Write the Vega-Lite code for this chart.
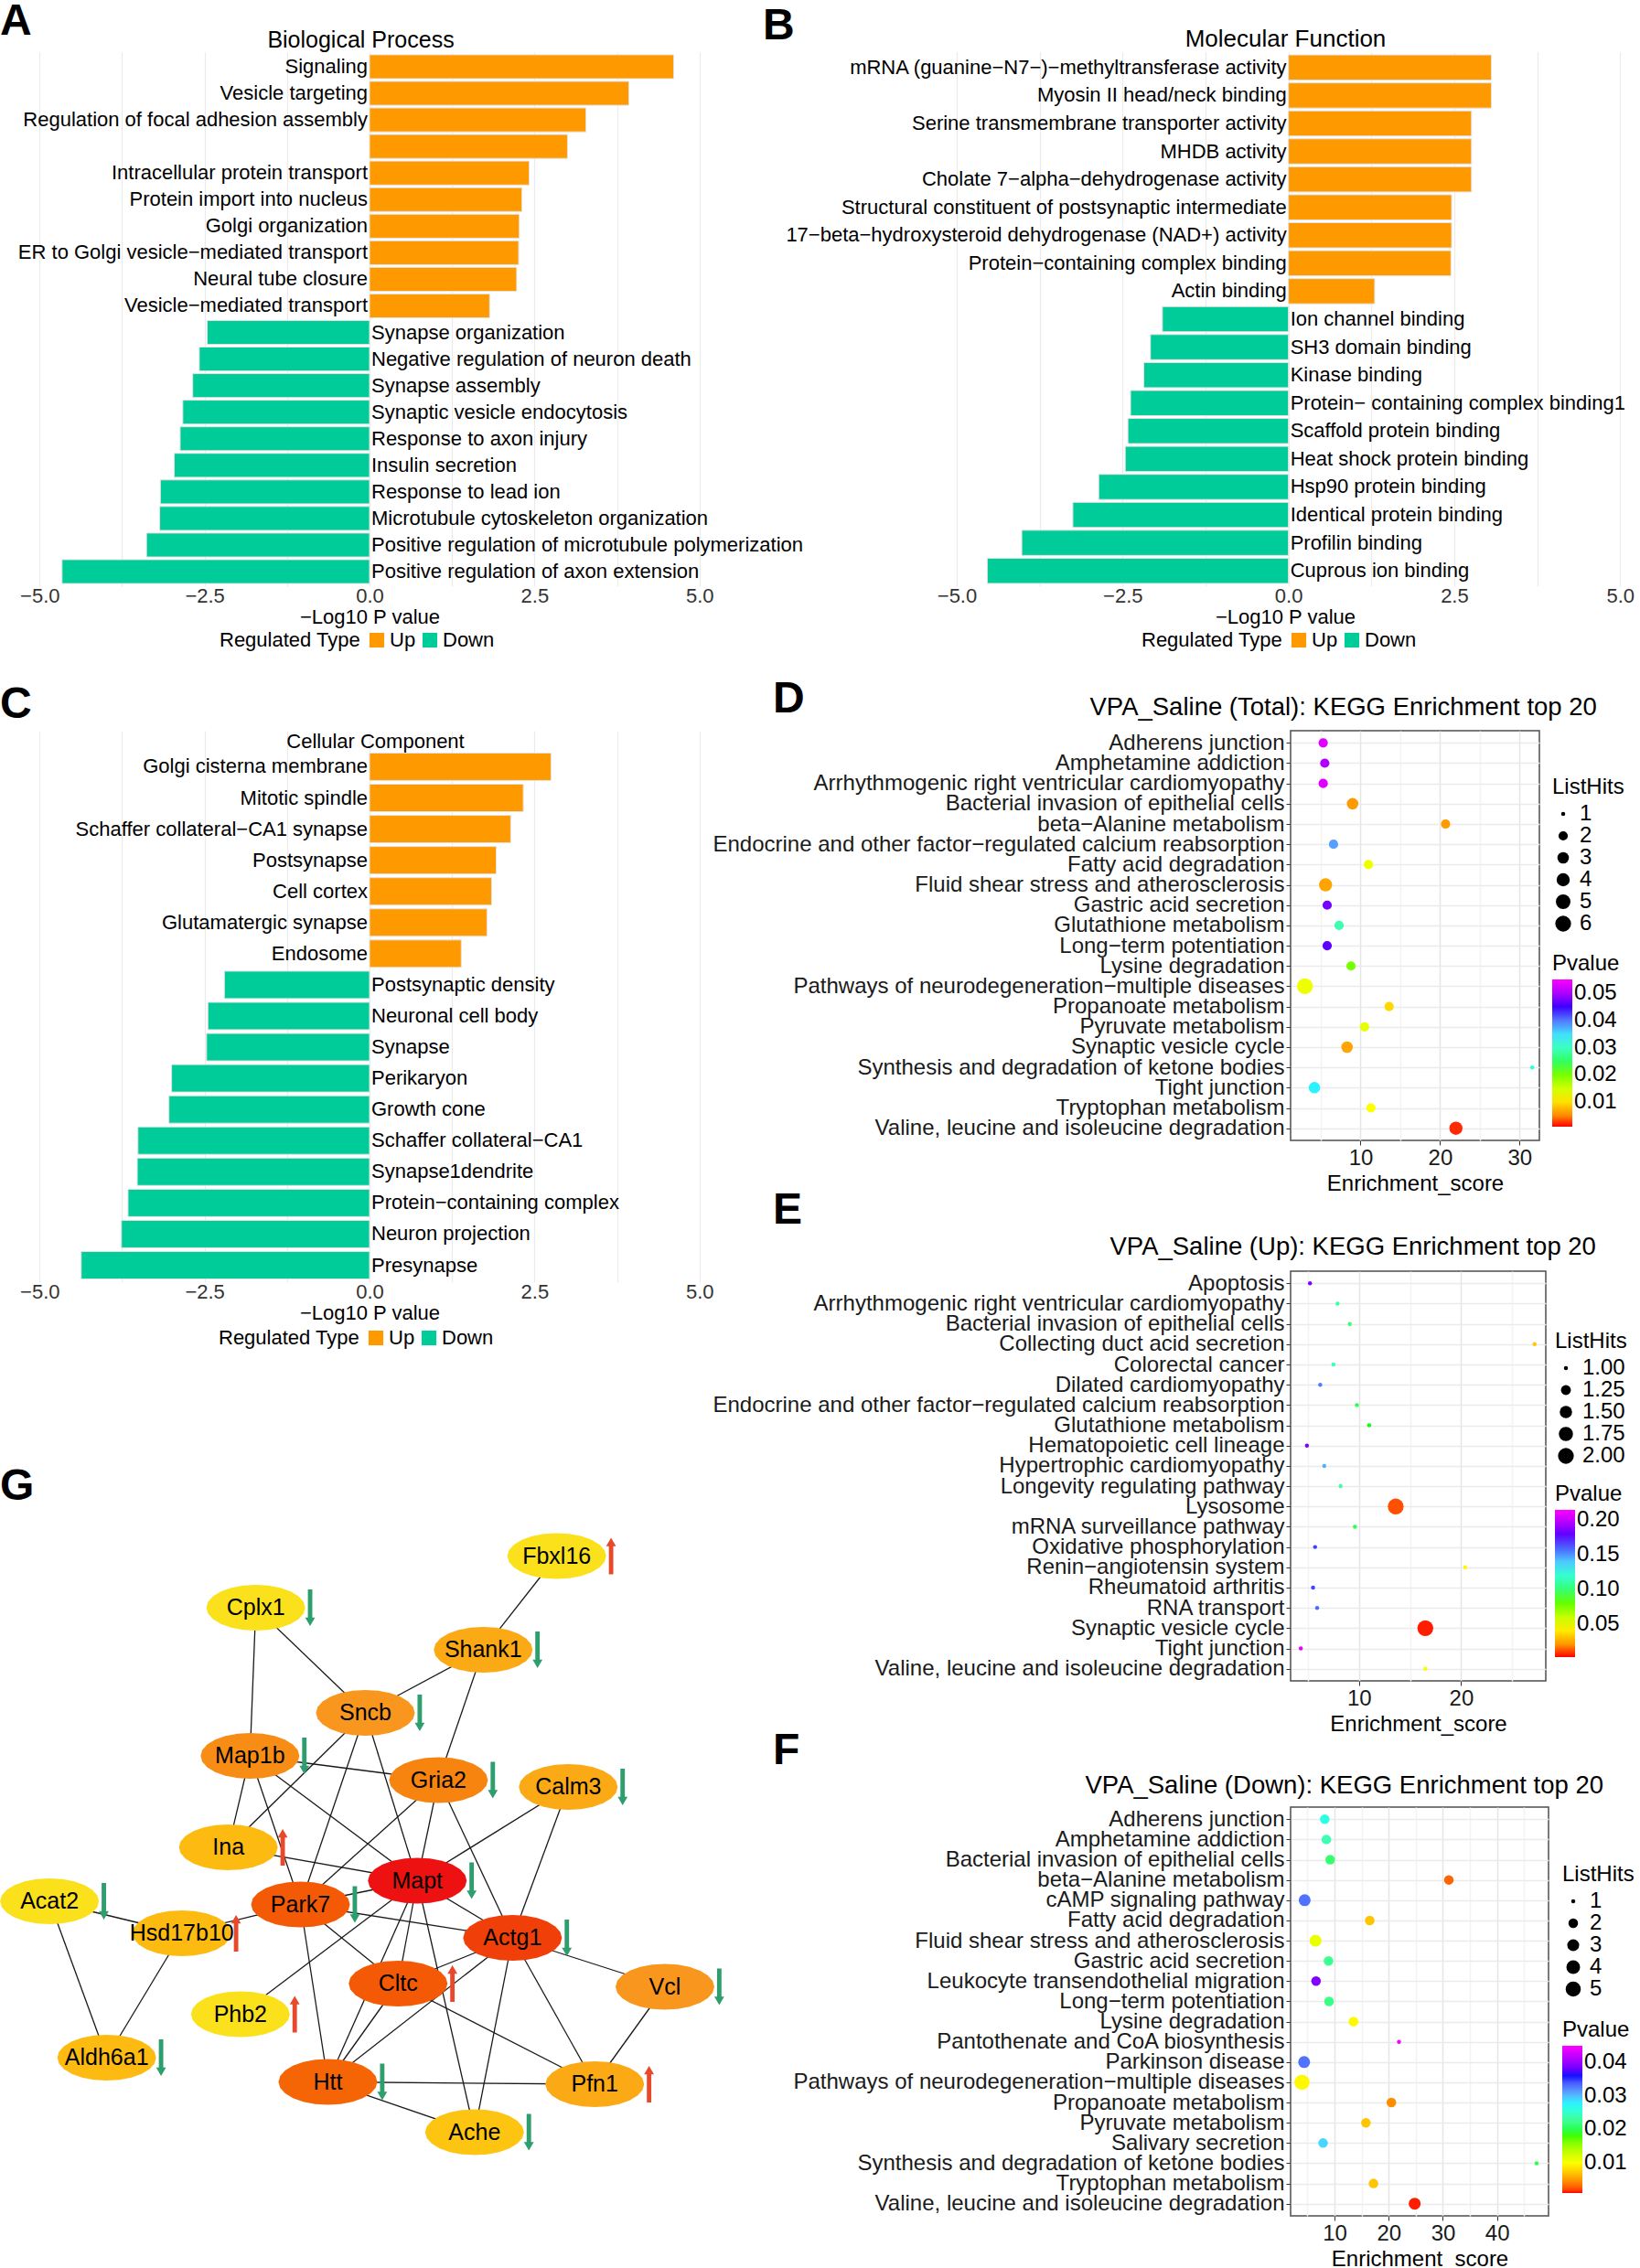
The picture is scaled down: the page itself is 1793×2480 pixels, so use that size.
{
"$schema":"https://vega.github.io/schema/vega-lite/v6.json",
"background":"white",
"padding":0,
"config":{"font":"Liberation Sans","view":{"stroke":null},"axis":{"labelColor":"#222","titleColor":"black"},"legend":{"labelColor":"black","titleColor":"black"},"title":{"color":"black"}},
"datasets":{
"bp":[
{"id":1,"term":"Signaling","value":4.61,"type":"Up"},
{"id":2,"term":"Vesicle targeting","value":3.93,"type":"Up"},
{"id":3,"term":"Regulation of focal adhesion assembly","value":3.28,"type":"Up"},
{"id":4,"term":"","value":3.0,"type":"Up"},
{"id":5,"term":"Intracellular protein transport","value":2.42,"type":"Up"},
{"id":6,"term":"Protein import into nucleus","value":2.31,"type":"Up"},
{"id":7,"term":"Golgi organization","value":2.27,"type":"Up"},
{"id":8,"term":"ER to Golgi vesicle−mediated transport","value":2.26,"type":"Up"},
{"id":9,"term":"Neural tube closure","value":2.23,"type":"Up"},
{"id":10,"term":"Vesicle−mediated transport","value":1.82,"type":"Up"},
{"id":11,"term":"Synapse organization","value":-2.46,"type":"Down"},
{"id":12,"term":"Negative regulation of neuron death","value":-2.58,"type":"Down"},
{"id":13,"term":"Synapse assembly","value":-2.68,"type":"Down"},
{"id":14,"term":"Synaptic vesicle endocytosis","value":-2.83,"type":"Down"},
{"id":15,"term":"Response to axon injury","value":-2.87,"type":"Down"},
{"id":16,"term":"Insulin secretion","value":-2.96,"type":"Down"},
{"id":17,"term":"Response to lead ion","value":-3.17,"type":"Down"},
{"id":18,"term":"Microtubule cytoskeleton organization","value":-3.18,"type":"Down"},
{"id":19,"term":"Positive regulation of microtubule polymerization","value":-3.38,"type":"Down"},
{"id":20,"term":"Positive regulation of axon extension","value":-4.66,"type":"Down"}
],
"mf":[
{"id":1,"term":"mRNA (guanine−N7−)−methyltransferase activity","value":3.06,"type":"Up"},
{"id":2,"term":"Myosin II head/neck binding","value":3.06,"type":"Up"},
{"id":3,"term":"Serine transmembrane transporter activity","value":2.76,"type":"Up"},
{"id":4,"term":"MHDB activity","value":2.76,"type":"Up"},
{"id":5,"term":"Cholate 7−alpha−dehydrogenase activity","value":2.76,"type":"Up"},
{"id":6,"term":"Structural constituent of postsynaptic intermediate","value":2.46,"type":"Up"},
{"id":7,"term":"17−beta−hydroxysteroid dehydrogenase (NAD+) activity","value":2.46,"type":"Up"},
{"id":8,"term":"Protein−containing complex binding","value":2.45,"type":"Up"},
{"id":9,"term":"Actin binding","value":1.3,"type":"Up"},
{"id":10,"term":"Ion channel binding","value":-1.9,"type":"Down"},
{"id":11,"term":"SH3 domain binding","value":-2.08,"type":"Down"},
{"id":12,"term":"Kinase binding","value":-2.18,"type":"Down"},
{"id":13,"term":"Protein− containing complex binding1","value":-2.38,"type":"Down"},
{"id":14,"term":"Scaffold protein binding","value":-2.42,"type":"Down"},
{"id":15,"term":"Heat shock protein binding","value":-2.46,"type":"Down"},
{"id":16,"term":"Hsp90 protein binding","value":-2.86,"type":"Down"},
{"id":17,"term":"Identical protein binding","value":-3.25,"type":"Down"},
{"id":18,"term":"Profilin binding","value":-4.02,"type":"Down"},
{"id":19,"term":"Cuprous ion binding","value":-4.54,"type":"Down"}
],
"cc":[
{"id":1,"term":"Golgi cisterna membrane","value":2.75,"type":"Up"},
{"id":2,"term":"Mitotic spindle","value":2.33,"type":"Up"},
{"id":3,"term":"Schaffer collateral−CA1 synapse","value":2.14,"type":"Up"},
{"id":4,"term":"Postsynapse","value":1.92,"type":"Up"},
{"id":5,"term":"Cell cortex","value":1.85,"type":"Up"},
{"id":6,"term":"Glutamatergic synapse","value":1.78,"type":"Up"},
{"id":7,"term":"Endosome","value":1.39,"type":"Up"},
{"id":8,"term":"Postsynaptic density","value":-2.2,"type":"Down"},
{"id":9,"term":"Neuronal cell body","value":-2.45,"type":"Down"},
{"id":10,"term":"Synapse","value":-2.47,"type":"Down"},
{"id":11,"term":"Perikaryon","value":-3.0,"type":"Down"},
{"id":12,"term":"Growth cone","value":-3.04,"type":"Down"},
{"id":13,"term":"Schaffer collateral−CA1","value":-3.51,"type":"Down"},
{"id":14,"term":"Synapse1dendrite","value":-3.52,"type":"Down"},
{"id":15,"term":"Protein−containing complex","value":-3.66,"type":"Down"},
{"id":16,"term":"Neuron projection","value":-3.76,"type":"Down"},
{"id":17,"term":"Presynapse","value":-4.37,"type":"Down"}
],
"ktotal":[
{"term":"Adherens junction","score":5.3,"p":0.053,"hits":2},
{"term":"Amphetamine addiction","score":5.5,"p":0.05,"hits":2},
{"term":"Arrhythmogenic right ventricular cardiomyopathy","score":5.3,"p":0.053,"hits":2},
{"term":"Bacterial invasion of epithelial cells","score":9.0,"p":0.006,"hits":3},
{"term":"beta−Alanine metabolism","score":20.7,"p":0.006,"hits":2},
{"term":"Endocrine and other factor−regulated calcium reabsorption","score":6.6,"p":0.038,"hits":2},
{"term":"Fatty acid degradation","score":11.0,"p":0.013,"hits":2},
{"term":"Fluid shear stress and atherosclerosis","score":5.6,"p":0.0065,"hits":4},
{"term":"Gastric acid secretion","score":5.8,"p":0.047,"hits":2},
{"term":"Glutathione metabolism","score":7.3,"p":0.029,"hits":2},
{"term":"Long−term potentiation","score":5.8,"p":0.046,"hits":2},
{"term":"Lysine degradation","score":8.8,"p":0.02,"hits":2},
{"term":"Pathways of neurodegeneration−multiple diseases","score":3.0,"p":0.013,"hits":6},
{"term":"Propanoate metabolism","score":13.6,"p":0.0095,"hits":2},
{"term":"Pyruvate metabolism","score":10.5,"p":0.0135,"hits":2},
{"term":"Synaptic vesicle cycle","score":8.3,"p":0.0065,"hits":3},
{"term":"Synthesis and degradation of ketone bodies","score":31.6,"p":0.032,"hits":1},
{"term":"Tight junction","score":4.2,"p":0.034,"hits":3},
{"term":"Tryptophan metabolism","score":11.3,"p":0.012,"hits":2},
{"term":"Valine, leucine and isoleucine degradation","score":22.0,"p":0.0015,"hits":4}
],
"kup":[
{"term":"Apoptosis","score":5.2,"p":0.185,"hits":1},
{"term":"Arrhythmogenic right ventricular cardiomyopathy","score":7.9,"p":0.11,"hits":1},
{"term":"Bacterial invasion of epithelial cells","score":9.1,"p":0.1,"hits":1},
{"term":"Collecting duct acid secretion","score":27.2,"p":0.032,"hits":1},
{"term":"Colorectal cancer","score":7.5,"p":0.115,"hits":1},
{"term":"Dilated cardiomyopathy","score":6.2,"p":0.155,"hits":1},
{"term":"Endocrine and other factor−regulated calcium reabsorption","score":9.8,"p":0.095,"hits":1},
{"term":"Glutathione metabolism","score":11.0,"p":0.088,"hits":1},
{"term":"Hematopoietic cell lineage","score":4.9,"p":0.185,"hits":1},
{"term":"Hypertrophic cardiomyopathy","score":6.6,"p":0.145,"hits":1},
{"term":"Longevity regulating pathway","score":8.2,"p":0.11,"hits":1},
{"term":"Lysosome","score":13.6,"p":0.008,"hits":2},
{"term":"mRNA surveillance pathway","score":9.6,"p":0.095,"hits":1},
{"term":"Oxidative phosphorylation","score":5.7,"p":0.165,"hits":1},
{"term":"Renin−angiotensin system","score":20.4,"p":0.043,"hits":1},
{"term":"Rheumatoid arthritis","score":5.5,"p":0.165,"hits":1},
{"term":"RNA transport","score":5.9,"p":0.158,"hits":1},
{"term":"Synaptic vesicle cycle","score":16.5,"p":0.003,"hits":2},
{"term":"Tight junction","score":4.3,"p":0.21,"hits":1},
{"term":"Valine, leucine and isoleucine degradation","score":16.5,"p":0.048,"hits":1}
],
"kdown":[
{"term":"Adherens junction","score":8.2,"p":0.026,"hits":2},
{"term":"Amphetamine addiction","score":8.5,"p":0.024,"hits":2},
{"term":"Bacterial invasion of epithelial cells","score":9.2,"p":0.021,"hits":2},
{"term":"beta−Alanine metabolism","score":31.1,"p":0.003,"hits":2},
{"term":"cAMP signaling pathway","score":4.5,"p":0.033,"hits":3},
{"term":"Fatty acid degradation","score":16.5,"p":0.007,"hits":2},
{"term":"Fluid shear stress and atherosclerosis","score":6.5,"p":0.011,"hits":3},
{"term":"Gastric acid secretion","score":8.9,"p":0.0225,"hits":2},
{"term":"Leukocyte transendothelial migration","score":6.6,"p":0.039,"hits":2},
{"term":"Long−term potentiation","score":9.0,"p":0.022,"hits":2},
{"term":"Lysine degradation","score":13.5,"p":0.0095,"hits":2},
{"term":"Pantothenate and CoA biosynthesis","score":21.9,"p":0.045,"hits":1},
{"term":"Parkinson disease","score":4.4,"p":0.033,"hits":3},
{"term":"Pathways of neurodegeneration−multiple diseases","score":4.0,"p":0.0095,"hits":5},
{"term":"Propanoate metabolism","score":20.5,"p":0.0045,"hits":2},
{"term":"Pyruvate metabolism","score":15.8,"p":0.007,"hits":2},
{"term":"Salivary secretion","score":7.9,"p":0.029,"hits":2},
{"term":"Synthesis and degradation of ketone bodies","score":47.3,"p":0.02,"hits":1},
{"term":"Tryptophan metabolism","score":17.2,"p":0.007,"hits":2},
{"term":"Valine, leucine and isoleucine degradation","score":24.8,"p":0.0012,"hits":3}
],
"nodes":[
{"id":"Fbxl16","x":1158,"y":215,"hub":1,"reg":"up"},
{"id":"Cplx1","x":532,"y":328,"hub":1,"reg":"down"},
{"id":"Shank1","x":1005,"y":420,"hub":4,"reg":"down"},
{"id":"Sncb","x":760,"y":558,"hub":5,"reg":"down"},
{"id":"Map1b","x":520,"y":652,"hub":5.5,"reg":"down"},
{"id":"Gria2","x":912,"y":705,"hub":6,"reg":"down"},
{"id":"Calm3","x":1182,"y":720,"hub":4,"reg":"down"},
{"id":"Ina","x":475,"y":852,"hub":3,"reg":"up"},
{"id":"Acat2","x":103,"y":970,"hub":1,"reg":"down"},
{"id":"Hsd17b10","x":378,"y":1040,"hub":3,"reg":"up"},
{"id":"Park7","x":625,"y":977,"hub":8,"reg":"down"},
{"id":"Mapt","x":868,"y":925,"hub":10,"reg":"down"},
{"id":"Actg1","x":1066,"y":1050,"hub":9,"reg":"down"},
{"id":"Cltc","x":828,"y":1150,"hub":8,"reg":"up"},
{"id":"Vcl","x":1383,"y":1157,"hub":5,"reg":"down"},
{"id":"Phb2","x":500,"y":1217,"hub":1,"reg":"up"},
{"id":"Aldh6a1","x":222,"y":1312,"hub":3,"reg":"down"},
{"id":"Htt","x":682,"y":1365,"hub":7.5,"reg":"down"},
{"id":"Pfn1","x":1237,"y":1370,"hub":4,"reg":"up"},
{"id":"Ache","x":987,"y":1475,"hub":2.5,"reg":"down"}
],
"edges":[
{"source":"Fbxl16","target":"Shank1"},{"source":"Cplx1","target":"Map1b"},{"source":"Cplx1","target":"Sncb"},
{"source":"Shank1","target":"Sncb"},{"source":"Shank1","target":"Gria2"},{"source":"Sncb","target":"Ina"},
{"source":"Sncb","target":"Park7"},{"source":"Sncb","target":"Mapt"},{"source":"Map1b","target":"Gria2"},
{"source":"Map1b","target":"Ina"},{"source":"Map1b","target":"Park7"},{"source":"Map1b","target":"Mapt"},
{"source":"Gria2","target":"Park7"},{"source":"Gria2","target":"Mapt"},{"source":"Gria2","target":"Actg1"},
{"source":"Calm3","target":"Mapt"},{"source":"Calm3","target":"Actg1"},{"source":"Ina","target":"Mapt"},
{"source":"Acat2","target":"Hsd17b10"},{"source":"Acat2","target":"Aldh6a1"},{"source":"Hsd17b10","target":"Park7"},
{"source":"Hsd17b10","target":"Aldh6a1"},{"source":"Park7","target":"Mapt"},{"source":"Park7","target":"Actg1"},
{"source":"Park7","target":"Cltc"},{"source":"Park7","target":"Htt"},{"source":"Mapt","target":"Actg1"},
{"source":"Mapt","target":"Cltc"},{"source":"Mapt","target":"Htt"},{"source":"Mapt","target":"Ache"},
{"source":"Mapt","target":"Phb2"},{"source":"Actg1","target":"Cltc"},{"source":"Actg1","target":"Htt"},
{"source":"Actg1","target":"Vcl"},{"source":"Actg1","target":"Pfn1"},{"source":"Actg1","target":"Ache"},
{"source":"Cltc","target":"Pfn1"},{"source":"Cltc","target":"Htt"},{"source":"Vcl","target":"Pfn1"},
{"source":"Htt","target":"Pfn1"},{"source":"Htt","target":"Ache"}
]
},
"resolve":{"scale":{"color":"independent","size":"independent","shape":"independent"},"legend":{"color":"independent","size":"independent","shape":"independent"}},
"spacing":29,
"vconcat":[
{"hconcat":[
{"title":{"text":"A","anchor":"start","frame":"group","fontSize":48,"fontWeight":"bold","baseline":"alphabetic","offset":-55,"dx":0},
 "width":808,"height":584,"data":{"name":"bp"},"view":{"stroke":null},
 "encoding":{"y":{"field":"id","type":"ordinal","scale":{"paddingInner":0.1,"paddingOuter":0.1},"axis":{"labels":false,"ticks":false,"domain":false,"grid":false,"title":"Biological Process","titleAngle":0,"titleX":394,"titleY":-6,"titleAlign":"center","titleBaseline":"alphabetic","titleFontSize":25,"titleFontWeight":"normal"}}},
 "layer":[
  {"mark":{"type":"bar","stroke":"#E3E3E3","strokeWidth":1},
   "encoding":{"x":{"field":"value","type":"quantitative","scale":{"domain":[-5.6,5.6],"nice":false,"zero":false},"axis":{"orient":"bottom","values":[-5,-3.75,-2.5,-1.25,0,1.25,2.5,3.75,5],"labelExpr":"datum.value % 2.5 === 0 ? format(datum.value, '.1f') : ''","labelOverlap":false,"labelFlush":false,"grid":true,"gridColor":"#EBEBEB","gridWidth":1.2,"ticks":false,"domain":false,"labelFontSize":22,"labelColor":"#333","labelPadding":0,"title":"−Log10 P value","titleFontSize":22,"titleFontWeight":"normal","titlePadding":2}},
   "color":{"field":"type","type":"nominal","scale":{"domain":["Up","Down"],"range":["#FF9900","#00CC99"]},"legend":{"title":"Regulated Type","orient":"none","legendX":240,"legendY":632,"direction":"horizontal","titleOrient":"left","symbolType":"square","symbolSize":260,"symbolStrokeWidth":0,"labelFontSize":22,"titleFontSize":22,"titleFontWeight":"normal","columnPadding":4,"labelOffset":3,"titlePadding":6}}}},
  {"transform":[{"filter":"datum.type === 'Up'"}],"mark":{"type":"text","align":"right","dx":-2,"fontSize":22,"color":"black"},"encoding":{"x":{"datum":0},"text":{"field":"term"}}},
  {"transform":[{"filter":"datum.type === 'Down'"}],"mark":{"type":"text","align":"left","dx":2,"fontSize":22,"color":"black"},"encoding":{"x":{"datum":0},"text":{"field":"term"}}}
 ]},
{"title":{"text":"B","anchor":"start","frame":"group","fontSize":48,"fontWeight":"bold","baseline":"alphabetic","offset":-62,"dx":-183},
 "width":776,"height":584,"data":{"name":"mf"},"view":{"stroke":null},
 "encoding":{"y":{"field":"id","type":"ordinal","scale":{"paddingInner":0.1,"paddingOuter":0.1},"axis":{"labels":false,"ticks":false,"domain":false,"grid":false,"title":"Molecular Function","titleAngle":0,"titleX":388,"titleY":-7,"titleAlign":"center","titleBaseline":"alphabetic","titleFontSize":26,"titleFontWeight":"normal"}}},
 "layer":[
  {"mark":{"type":"bar","stroke":"#E3E3E3","strokeWidth":1},
   "encoding":{"x":{"field":"value","type":"quantitative","scale":{"domain":[-5.4,5.3],"nice":false,"zero":false},"axis":{"orient":"bottom","values":[-5,-3.75,-2.5,-1.25,0,1.25,2.5,3.75,5],"labelExpr":"datum.value % 2.5 === 0 ? format(datum.value, '.1f') : ''","labelOverlap":false,"labelFlush":false,"grid":true,"gridColor":"#EBEBEB","gridWidth":1.2,"ticks":false,"domain":false,"labelFontSize":22,"labelColor":"#333","labelPadding":0,"title":"−Log10 P value","titleFontSize":22,"titleFontWeight":"normal","titlePadding":2}},
   "color":{"field":"type","type":"nominal","scale":{"domain":["Up","Down"],"range":["#FF9900","#00CC99"]},"legend":{"title":"Regulated Type","orient":"none","legendX":231,"legendY":632,"direction":"horizontal","titleOrient":"left","symbolType":"square","symbolSize":260,"symbolStrokeWidth":0,"labelFontSize":22,"titleFontSize":22,"titleFontWeight":"normal","columnPadding":4,"labelOffset":3,"titlePadding":6}}}},
  {"transform":[{"filter":"datum.type === 'Up'"}],"mark":{"type":"text","align":"right","dx":-2,"fontSize":22,"color":"black"},"encoding":{"x":{"datum":0},"text":{"field":"term"}}},
  {"transform":[{"filter":"datum.type === 'Down'"}],"mark":{"type":"text","align":"left","dx":2,"fontSize":22,"color":"black"},"encoding":{"x":{"datum":0},"text":{"field":"term"}}}
 ]}
],"spacing":-45,"resolve":{"scale":{"color":"independent","size":"independent","shape":"independent"},"legend":{"color":"independent","size":"independent","shape":"independent"}}},
{"hconcat":[
 {"vconcat":[
  {"title":{"text":"C","anchor":"start","frame":"group","fontSize":48,"fontWeight":"bold","baseline":"alphabetic","offset":-34,"dx":0},
   "width":808,"height":603,"data":{"name":"cc"},"view":{"stroke":null},
   "encoding":{"y":{"field":"id","type":"ordinal","scale":{"paddingInner":0.12,"paddingOuter":0.41,"align":0.875},"axis":{"labels":false,"ticks":false,"domain":false,"grid":false,"title":"Cellular Component","titleAngle":0,"titleX":410,"titleY":18,"titleAlign":"center","titleBaseline":"alphabetic","titleFontSize":22,"titleFontWeight":"normal"}}},
   "layer":[
    {"mark":{"type":"bar","stroke":"#E3E3E3","strokeWidth":1},
     "encoding":{"x":{"field":"value","type":"quantitative","scale":{"domain":[-5.6,5.6],"nice":false,"zero":false},"axis":{"orient":"bottom","values":[-5,-3.75,-2.5,-1.25,0,1.25,2.5,3.75,5],"labelExpr":"datum.value % 2.5 === 0 ? format(datum.value, '.1f') : ''","labelOverlap":false,"labelFlush":false,"grid":true,"gridColor":"#EBEBEB","gridWidth":1.2,"ticks":false,"domain":false,"labelFontSize":22,"labelColor":"#333","labelPadding":0,"title":"−Log10 P value","titleFontSize":22,"titleFontWeight":"normal","titlePadding":2}},
     "color":{"field":"type","type":"nominal","scale":{"domain":["Up","Down"],"range":["#FF9900","#00CC99"]},"legend":{"title":"Regulated Type","orient":"none","legendX":239,"legendY":653,"direction":"horizontal","titleOrient":"left","symbolType":"square","symbolSize":260,"symbolStrokeWidth":0,"labelFontSize":22,"titleFontSize":22,"titleFontWeight":"normal","columnPadding":4,"labelOffset":3,"titlePadding":6}}}},
    {"transform":[{"filter":"datum.type === 'Up'"}],"mark":{"type":"text","align":"right","dx":-2,"fontSize":22,"color":"black"},"encoding":{"x":{"datum":0},"text":{"field":"term"}}},
    {"transform":[{"filter":"datum.type === 'Down'"}],"mark":{"type":"text","align":"left","dx":2,"fontSize":22,"color":"black"},"encoding":{"x":{"datum":0},"text":{"field":"term"}}}
   ]},
  {"title":{"text":"G","anchor":"start","frame":"group","fontSize":48,"fontWeight":"bold","baseline":"alphabetic","offset":-19,"dx":0},
   "width":820,"height":705,"view":{"stroke":null},
   "layer":[
    {"data":{"name":"edges"},
     "transform":[{"lookup":"source","from":{"data":{"name":"nodes"},"key":"id","fields":["x","y"]},"as":["sx","sy"]},{"lookup":"target","from":{"data":{"name":"nodes"},"key":"id","fields":["x","y"]},"as":["tx","ty"]}],
     "mark":{"type":"rule","color":"#1A1A1A","strokeWidth":1.3},
     "encoding":{"x":{"field":"sx","type":"quantitative","scale":{"domain":[0,1560],"nice":false,"zero":false},"axis":null},"y":{"field":"sy","type":"quantitative","scale":{"domain":[150,1560],"reverse":true,"nice":false,"zero":false},"axis":null},"x2":{"field":"tx"},"y2":{"field":"ty"}}},
    {"data":{"name":"nodes"},
     "mark":{"type":"point","filled":true,"opacity":1,"size":11664,"shape":"M1,0L0.966,0.12L0.866,0.232L0.707,0.327L0.5,0.401L0.259,0.447L0,0.463L-0.259,0.447L-0.5,0.401L-0.707,0.327L-0.866,0.232L-0.966,0.12L-1,0L-0.966,-0.12L-0.866,-0.232L-0.707,-0.327L-0.5,-0.401L-0.259,-0.447L0,-0.463L0.259,-0.447L0.5,-0.401L0.707,-0.327L0.866,-0.232L0.966,-0.12Z"},
     "encoding":{"x":{"field":"x","type":"quantitative"},"y":{"field":"y","type":"quantitative"},"color":{"field":"hub","type":"quantitative","scale":{"domain":[1,5,10],"range":["#FBE11C","#F9961D","#EE1111"]},"legend":null}}},
    {"data":{"name":"nodes"},
     "mark":{"type":"point","filled":true,"opacity":1,"size":11664},
     "encoding":{"x":{"field":"x","type":"quantitative"},"y":{"field":"y","type":"quantitative"},"shape":{"field":"reg","type":"nominal","scale":{"domain":["down","up"],"range":["M1.055,-0.37L1.145,-0.37L1.145,0.2L1.2,0.2L1.1,0.37L1,0.2L1.055,0.2Z","M1.055,0.37L1.145,0.37L1.145,-0.2L1.2,-0.2L1.1,-0.37L1,-0.2L1.055,-0.2Z"]},"legend":null},"color":{"field":"reg","type":"nominal","scale":{"domain":["down","up"],"range":["#2E9E6E","#E8492B"]},"legend":null}}},
    {"data":{"name":"nodes"},
     "mark":{"type":"text","fontSize":25,"color":"black"},
     "encoding":{"x":{"field":"x","type":"quantitative"},"y":{"field":"y","type":"quantitative"},"text":{"field":"id"}}}
   ],
   "resolve":{"scale":{"color":"independent"}}}
 ],"spacing":128,"resolve":{"scale":{"color":"independent","size":"independent","shape":"independent"},"legend":{"color":"independent","size":"independent","shape":"independent"}}},
 {"vconcat":[
  {"title":{"text":"D","anchor":"start","frame":"group","fontSize":48,"fontWeight":"bold","baseline":"alphabetic","offset":-68,"dx":-566},
   "width":272,"height":448,"data":{"name":"ktotal"},"view":{"stroke":"#4D4D4D","strokeWidth":1.5},
   "mark":{"type":"circle","opacity":1},
   "encoding":{
    "y":{"field":"term","type":"nominal","sort":null,"scale":{"type":"point","padding":0.6},"axis":{"title":"VPA_Saline (Total): KEGG Enrichment top 20","titleAngle":0,"titleX":-220,"titleY":-18,"titleAlign":"left","titleBaseline":"alphabetic","titleFontSize":27.5,"titleFontWeight":"normal","labelFontSize":24,"labelColor":"#1A1A1A","labelLimit":1000,"labelPadding":2,"tickSize":5,"tickColor":"#333","domain":false,"grid":true,"gridColor":"#EBEBEB","gridWidth":1.5}},
    "x":{"field":"score","type":"quantitative","scale":{"domain":[1.2,32.5],"nice":false,"zero":false},"axis":{"values":[5,10,15,20,25,30],"labelExpr":"datum.value % 10 === 0 ? datum.label : ''","labelOverlap":false,"labelFlush":false,"labelFontSize":24,"labelColor":"#1A1A1A","labelPadding":2,"tickSize":5,"tickColor":"#333","tickOpacity":{"condition":{"test":"datum.value % 10 === 0","value":1},"value":0},"gridColor":{"condition":{"test":"datum.value % 10 === 0","value":"#E5E5E5"},"value":"#F3F3F3"},"gridWidth":1.5,"domain":false,"title":"Enrichment_score","titleFontSize":24,"titleFontWeight":"normal","titlePadding":4}},
    "color":{"field":"p","type":"quantitative","scale":{"domain":[0.001,0.0118,0.0226,0.0334,0.0442,0.055],"range":["#FF0000","#FFFF00","#00FF00","#00FFFF","#0000FF","#FF00FF"],"interpolate":"lab"},"legend":{"title":"Pvalue","orient":"none","legendX":286,"legendY":243,"values":[0.01,0.02,0.03,0.04,0.05],"format":".2f","gradientLength":161,"gradientThickness":22,"gradientStrokeWidth":0,"labelFontSize":24,"titleFontSize":24,"titleFontWeight":"normal","direction":"vertical"}},
    "size":{"field":"hits","type":"quantitative","scale":{"domain":[1,2,3,4,5,6],"range":[20,104,158,207,254,299]},"legend":{"title":"ListHits","orient":"none","legendX":286,"legendY":50,"values":[1,2,3,4,5,6],"symbolFillColor":"black","symbolStrokeWidth":0,"symbolOpacity":1,"labelFontSize":24,"titleFontSize":24,"titleFontWeight":"normal","rowPadding":0,"labelOffset":6}}
   }},
  {"title":{"text":"E","anchor":"start","frame":"group","fontSize":48,"fontWeight":"bold","baseline":"alphabetic","offset":-37,"dx":-566},
   "width":279,"height":448,"data":{"name":"kup"},"view":{"stroke":"#4D4D4D","strokeWidth":1.5},
   "mark":{"type":"circle","opacity":1},
   "encoding":{
    "y":{"field":"term","type":"nominal","sort":null,"scale":{"type":"point","padding":0.6},"axis":{"title":"VPA_Saline (Up): KEGG Enrichment top 20","titleAngle":0,"titleX":-198,"titleY":-19,"titleAlign":"left","titleBaseline":"alphabetic","titleFontSize":27.5,"titleFontWeight":"normal","labelFontSize":24,"labelColor":"#1A1A1A","labelLimit":1000,"labelPadding":2,"tickSize":5,"tickColor":"#333","domain":false,"grid":true,"gridColor":"#EBEBEB","gridWidth":1.5}},
    "x":{"field":"score","type":"quantitative","scale":{"domain":[3.3,28.3],"nice":false,"zero":false},"axis":{"values":[5,10,15,20,25],"labelExpr":"datum.value % 10 === 0 ? datum.label : ''","labelOverlap":false,"labelFlush":false,"labelFontSize":24,"labelColor":"#1A1A1A","labelPadding":2,"tickSize":5,"tickColor":"#333","tickOpacity":{"condition":{"test":"datum.value % 10 === 0","value":1},"value":0},"gridColor":{"condition":{"test":"datum.value % 10 === 0","value":"#E5E5E5"},"value":"#F3F3F3"},"gridWidth":1.5,"domain":false,"title":"Enrichment_score","titleFontSize":24,"titleFontWeight":"normal","titlePadding":4}},
    "color":{"field":"p","type":"quantitative","scale":{"domain":[0.002,0.0446,0.0872,0.1298,0.1724,0.215],"range":["#FF0000","#FFFF00","#00FF00","#00FFFF","#0000FF","#FF00FF"],"interpolate":"lab"},"legend":{"title":"Pvalue","orient":"none","legendX":289,"legendY":232,"values":[0.05,0.1,0.15,0.2],"format":".2f","gradientLength":161,"gradientThickness":22,"gradientStrokeWidth":0,"labelFontSize":24,"titleFontSize":24,"titleFontWeight":"normal","direction":"vertical"}},
    "size":{"field":"hits","type":"quantitative","scale":{"domain":[1,1.25,1.5,1.75,2],"range":[20,118,183,242,299]},"legend":{"title":"ListHits","orient":"none","legendX":289,"legendY":65,"values":[1,1.25,1.5,1.75,2],"format":".2f","symbolFillColor":"black","symbolStrokeWidth":0,"symbolOpacity":1,"labelFontSize":24,"titleFontSize":24,"titleFontWeight":"normal","rowPadding":0,"labelOffset":6}}
   }},
  {"title":{"text":"F","anchor":"start","frame":"group","fontSize":48,"fontWeight":"bold","baseline":"alphabetic","offset":-39,"dx":-566},
   "width":282,"height":447,"data":{"name":"kdown"},"view":{"stroke":"#4D4D4D","strokeWidth":1.5},
   "mark":{"type":"circle","opacity":1},
   "encoding":{
    "y":{"field":"term","type":"nominal","sort":null,"scale":{"type":"point","padding":0.6},"axis":{"title":"VPA_Saline (Down): KEGG Enrichment top 20","titleAngle":0,"titleX":-225,"titleY":-16,"titleAlign":"left","titleBaseline":"alphabetic","titleFontSize":27.5,"titleFontWeight":"normal","labelFontSize":24,"labelColor":"#1A1A1A","labelLimit":1000,"labelPadding":2,"tickSize":5,"tickColor":"#333","domain":false,"grid":true,"gridColor":"#EBEBEB","gridWidth":1.5}},
    "x":{"field":"score","type":"quantitative","scale":{"domain":[1.9,49.5],"nice":false,"zero":false},"axis":{"values":[5,10,15,20,25,30,35,40,45],"labelExpr":"datum.value % 10 === 0 ? datum.label : ''","labelOverlap":false,"labelFlush":false,"labelFontSize":24,"labelColor":"#1A1A1A","labelPadding":2,"tickSize":5,"tickColor":"#333","tickOpacity":{"condition":{"test":"datum.value % 10 === 0","value":1},"value":0},"gridColor":{"condition":{"test":"datum.value % 10 === 0","value":"#E5E5E5"},"value":"#F3F3F3"},"gridWidth":1.5,"domain":false,"title":"Enrichment_score","titleFontSize":24,"titleFontWeight":"normal","titlePadding":4}},
    "color":{"field":"p","type":"quantitative","scale":{"domain":[0.001,0.0098,0.0186,0.0274,0.0362,0.045],"range":["#FF0000","#FFFF00","#00FF00","#00FFFF","#0000FF","#FF00FF"],"interpolate":"lab"},"legend":{"title":"Pvalue","orient":"none","legendX":297,"legendY":232,"values":[0.01,0.02,0.03,0.04],"format":".2f","gradientLength":161,"gradientThickness":22,"gradientStrokeWidth":0,"labelFontSize":24,"titleFontSize":24,"titleFontWeight":"normal","direction":"vertical"}},
    "size":{"field":"hits","type":"quantitative","scale":{"domain":[1,2,3,4,5],"range":[20,110,170,224,275]},"legend":{"title":"ListHits","orient":"none","legendX":297,"legendY":62,"values":[1,2,3,4,5],"symbolFillColor":"black","symbolStrokeWidth":0,"symbolOpacity":1,"labelFontSize":24,"titleFontSize":24,"titleFontWeight":"normal","rowPadding":0,"labelOffset":6}}
   }}
 ],"spacing":-8,"resolve":{"scale":{"color":"independent","size":"independent","shape":"independent"},"legend":{"color":"independent","size":"independent","shape":"independent"}}}
],"spacing":-42,"resolve":{"scale":{"color":"independent","size":"independent","shape":"independent"},"legend":{"color":"independent","size":"independent","shape":"independent"}}}
]
}
